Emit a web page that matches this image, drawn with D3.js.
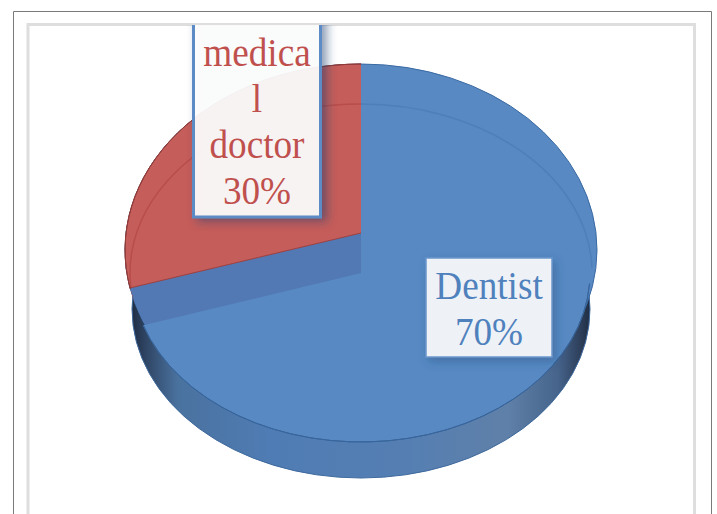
<!DOCTYPE html>
<html>
<head>
<meta charset="utf-8">
<script src="https://cdnjs.cloudflare.com/ajax/libs/d3/7.8.5/d3.min.js"></script>
<style>
  html, body { margin: 0; padding: 0; background: #fff; }
  svg { display: block; }
  text { font-family: "Liberation Serif", serif; text-anchor: middle; }
</style>
</head>
<body>
<div id="chart"></div>
<script>
var categories = ["Dentist", "medical doctor"];
var values = [70, 30];
var labelLines = [["Dentist"], ["medica", "l", "doctor"]];

var width = 717, height = 514;
var cx = 361;
var colors = ["#5889c3", "#c55d5a"];
var textColors = ["#4f81bd", "#c0504d"];

// the ellipses of the fake 3d pie
var outer = {cy: 250, rx: 236, ry: 186};
var red = {cy: 233, rx: 243, ry: 178};
var face = {cy: 273, rx: 229, ry: 169};
var ring = {cy: 273, rx: 231, ry: 169};
var base = {cy: 309, rx: 229, ry: 169};

var svg = d3.select("#chart").append("svg")
    .attr("width", width)
    .attr("height", height);

var defs = svg.append("defs");

var wall = defs.append("linearGradient")
    .attr("id", "wall")
    .attr("x1", 0).attr("x2", 1).attr("y1", 0).attr("y2", 0);
[[0, "#1f2d44"], [0.03, "#2f4564"], [0.1, "#4a729f"], [0.3, "#4f7cb4"], [0.6, "#557fb3"],
 [0.82, "#5f80a8"], [0.93, "#46648c"], [0.985, "#2a3a54"], [1, "#1f2d44"]].forEach(function(s) {
    wall.append("stop").attr("offset", s[0]).attr("stop-color", s[1]);
});

defs.append("clipPath").attr("id", "outerClip")
    .append("ellipse")
    .attr("cx", cx).attr("cy", outer.cy).attr("rx", outer.rx).attr("ry", outer.ry);

// the medical doctor box is cut by the frame at the top
defs.append("clipPath").attr("id", "pageClip")
    .append("rect")
    .attr("x", 0).attr("y", 25).attr("width", width).attr("height", height);

defs.append("filter").attr("id", "shadowRed")
    .attr("x", "-30%").attr("y", "-30%").attr("width", "160%").attr("height", "160%")
    .append("feDropShadow")
    .attr("dx", 5).attr("dy", 3).attr("stdDeviation", 5)
    .attr("flood-color", "#1f3f70").attr("flood-opacity", 0.55);

defs.append("filter").attr("id", "shadowBlue")
    .attr("x", "-30%").attr("y", "-30%").attr("width", "160%").attr("height", "160%")
    .append("feDropShadow")
    .attr("dx", 3).attr("dy", 4).attr("stdDeviation", 5)
    .attr("flood-color", "#1f3f70").attr("flood-opacity", 0.35);

// page frames
svg.append("path")
    .attr("d", "M13.5," + height + "V11.5H711.5V" + height)
    .attr("fill", "none")
    .attr("stroke", "#7a7a7a")
    .attr("stroke-width", 1);
svg.append("path")
    .attr("d", "M28," + height + "V24.5H694.5V" + height)
    .attr("fill", "none")
    .attr("stroke", "#dedede")
    .attr("stroke-width", 3);

// slice angles, going clockwise from 12 o'clock
var pie = d3.pie().sort(null).value(function(d) { return d; });
var slices = pie(values);
var blue = slices[0], redSlice = slices[1];

var unitArc = d3.arc().innerRadius(0).outerRadius(1);
var ringArc = d3.arc().innerRadius(1).outerRadius(1);

function place(e, k) {
    k = k || 1;
    return "translate(" + cx + "," + e.cy + ") scale(" + (e.rx * k) + "," + (e.ry * k) + ")";
}
function onEllipse(e, a) {
    return [cx + Math.sin(a) * e.rx, e.cy - Math.cos(a) * e.ry];
}

// side wall
svg.append("ellipse")
    .attr("cx", cx).attr("cy", base.cy).attr("rx", base.rx).attr("ry", base.ry)
    .attr("fill", "url(#wall)")
    .attr("stroke", "#3f6a9e")
    .attr("stroke-width", 1);

// back of the pie
svg.append("ellipse")
    .attr("cx", cx).attr("cy", outer.cy).attr("rx", outer.rx).attr("ry", outer.ry)
    .attr("fill", colors[0])
    .attr("stroke", "#3a6aa3")
    .attr("stroke-width", 1);

// blue top face, only the front rim gets a line
svg.append("path")
    .attr("d", unitArc(blue))
    .attr("transform", place(face))
    .attr("fill", colors[0]);
svg.append("path")
    .attr("d", ringArc({startAngle: Math.PI * 0.52, endAngle: blue.endAngle}))
    .attr("transform", place(face))
    .attr("fill", "none")
    .attr("stroke", "#38659b")
    .attr("stroke-width", 1)
    .attr("vector-effect", "non-scaling-stroke");

// faint ring on the blue back part
svg.append("path")
    .attr("d", ringArc({startAngle: 0, endAngle: Math.PI * 0.49}))
    .attr("transform", place(ring))
    .attr("fill", "none")
    .attr("stroke", "#4f7fb9")
    .attr("stroke-width", 1.5)
    .attr("vector-effect", "non-scaling-stroke");

// red slice and blue band, clipped on the outer ellipse
var edgeAngle = redSlice.startAngle;
var redGroup = svg.append("g").attr("clip-path", "url(#outerClip)");
redGroup.append("path")
    .attr("d", unitArc(redSlice))
    .attr("transform", place(red, 1.2))
    .attr("fill", colors[1]);
redGroup.append("path")
    .attr("d", ringArc({startAngle: redSlice.startAngle, endAngle: redSlice.endAngle}))
    .attr("transform", place(ring))
    .attr("fill", "none")
    .attr("stroke", "#b84d4a")
    .attr("stroke-width", 1.5)
    .attr("vector-effect", "non-scaling-stroke");
redGroup.append("path")
    .attr("d", d3.line()([[cx, red.cy], onEllipse(red, edgeAngle), onEllipse(face, edgeAngle), [cx, face.cy]]) + "Z")
    .attr("fill", "#5279b3");
redGroup.append("path")
    .attr("d", d3.line()([[cx, red.cy], onEllipse(red, edgeAngle)]))
    .attr("fill", "none")
    .attr("stroke", "#a0403f")
    .attr("stroke-width", 1);

// red outline
svg.append("path")
    .attr("d", ringArc({startAngle: redSlice.startAngle + 0.105, endAngle: redSlice.endAngle}))
    .attr("transform", place(outer))
    .attr("fill", "none")
    .attr("stroke", "#8f3b39")
    .attr("stroke-width", 1)
    .attr("vector-effect", "non-scaling-stroke");

// data labels
var labels = [
    {i: 0, x: 426, y: 258, w: 126, h: 99, first: 299, step: 46, filter: "url(#shadowBlue)", fill: "#eef2f7", stroke: "#6a96cb", sw: 1.5},
    {i: 1, x: 193.5, y: 10, w: 127, h: 207, first: 66, step: 46, filter: "url(#shadowRed)", fill: "rgba(255,255,255,0.91)", stroke: "#5b8bc5", sw: 3}
];

labels.forEach(function(l) {
    svg.append("g")
        .attr("clip-path", "url(#pageClip)")
        .append("rect")
        .attr("x", l.x).attr("y", l.y)
        .attr("width", l.w).attr("height", l.h)
        .attr("fill", l.fill)
        .attr("stroke", l.stroke)
        .attr("stroke-width", l.sw)
        .attr("filter", l.filter);

    var lines = labelLines[l.i].concat(values[l.i] + "%");
    // the original text is a bit condensed
    svg.selectAll(".label" + l.i)
        .data(lines)
        .enter().append("text")
        .attr("class", "label" + l.i)
        .attr("transform", function(d, i) {
            return "translate(" + (l.x + l.w / 2) + "," + (l.first + i * l.step) + ") scale(0.93,1)";
        })
        .attr("font-size", 40)
        .attr("fill", textColors[l.i])
        .text(function(d) { return d; });
});
</script>
</body>
</html>
